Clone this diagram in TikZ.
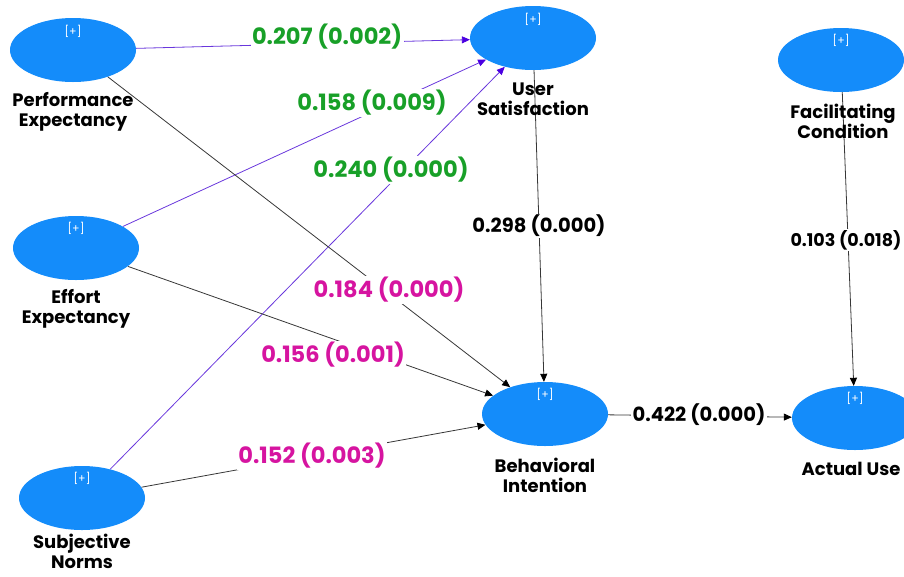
\documentclass[tikz,border=0pt]{standalone}
\usepackage{fontspec}
\setmainfont{Poppins}
\usetikzlibrary{shapes.geometric,arrows.meta}
\definecolor{ellblue}{RGB}{20,140,250}
\definecolor{pgreen}{RGB}{24,160,40}
\definecolor{pmag}{RGB}{214,20,160}
\definecolor{pline}{RGB}{105,55,220}
\definecolor{ptip}{RGB}{75,0,225}
\definecolor{dline}{RGB}{55,55,55}
\tikzset{
  lv/.style={ellipse, fill=ellblue, minimum width=126pt, minimum height=64pt, inner sep=0pt},
  plus/.style={text=white, font=\fontsize{11}{11}\selectfont},
  vname/.style={align=center, font=\bfseries\fontsize{18}{20}\selectfont, text=black},
  glab/.style={fill=white, inner sep=1.5pt, text=pgreen, font=\bfseries\fontsize{22.5}{22}\selectfont},
  mlab/.style={fill=white, inner sep=1.5pt, text=pmag, font=\bfseries\fontsize{22.5}{22}\selectfont},
  klab/.style={fill=white, inner sep=1.5pt, text=black, font=\bfseries\fontsize{19.5}{19}\selectfont},
  slab/.style={fill=white, inner sep=1.5pt, text=black, font=\bfseries\fontsize{17.5}{17}\selectfont},
  parr/.style={draw=pline, line width=0.8pt, -{Triangle[length=8pt,width=7pt,color=ptip]}},
  darr/.style={draw=dline, line width=0.8pt, -{Triangle[length=8pt,width=7pt,color=black]}}
}
\begin{document}
\begin{tikzpicture}[x=1pt,y=-1pt]
\useasboundingbox (0,0) rectangle (904,576);
% latent variables
\node[lv] (pe) at (73,50) {};
\node[lv] (us) at (533,38) {};
\node[lv] (fc) at (841,60) {};
\node[lv] (ee) at (76,248) {};
\node[lv] (bi) at (545,414) {};
\node[lv] (au) at (855,418) {};
\node[lv] (sn) at (82,498) {};
% [+] markers
\node[plus] (pep) at (73,31) {[+]};
\node[plus] (usp) at (533,19) {[+]};
\node[plus] (fcp) at (841,40) {[+]};
\node[plus] (eep) at (76,228) {[+]};
\node[plus] (bip) at (545,394) {[+]};
\node[plus] (aup) at (855,398) {[+]};
\node[plus] (snp) at (82,478) {[+]};
% connectors
\draw[parr] (pe) -- (us);
\draw[parr] (ee) -- (us);
\draw[parr] (sn) -- (us);
\draw[darr] (pe) -- (bi);
\draw[darr] (ee) -- (bi);
\draw[darr] (sn) -- (bi);
\draw[darr] (us) -- (bi);
\draw[darr] (fc) -- (au);
\draw[darr] (bi) -- (au);
% names
\node[vname] (pen) at (73,112) {Performance\\Expectancy};
\node[vname] (usn) at (533,99) {User\\Satisfaction};
\node[vname] (fcn) at (843,121) {Facilitating\\Condition};
\node[vname] (een) at (76,309) {Effort\\Expectancy};
\node[vname] (bin) at (545,475) {Behavioral\\Intention};
\node[vname] (aun) at (851,469) {Actual Use};
\node[vname] (snn) at (82,551) {Subjective\\Norms};
% path coefficients
\node[glab] (l1) at (327,37) {0.207 (0.002)};
\node[glab] (l2) at (372,103) {0.158 (0.009)};
\node[glab] (l3) at (391,170) {0.240 (0.000)};
\node[mlab] (l4) at (389,290) {0.184 (0.000)};
\node[mlab] (l5) at (333,355) {0.156 (0.001)};
\node[mlab] (l6) at (312,456) {0.152 (0.003)};
\node[klab] (l7) at (539,226) {0.298 (0.000)};
\node[slab] (l8) at (846,240) {0.103 (0.018)};
\node[klab] (l9) at (699,415) {0.422 (0.000)};
\end{tikzpicture}
\end{document}
